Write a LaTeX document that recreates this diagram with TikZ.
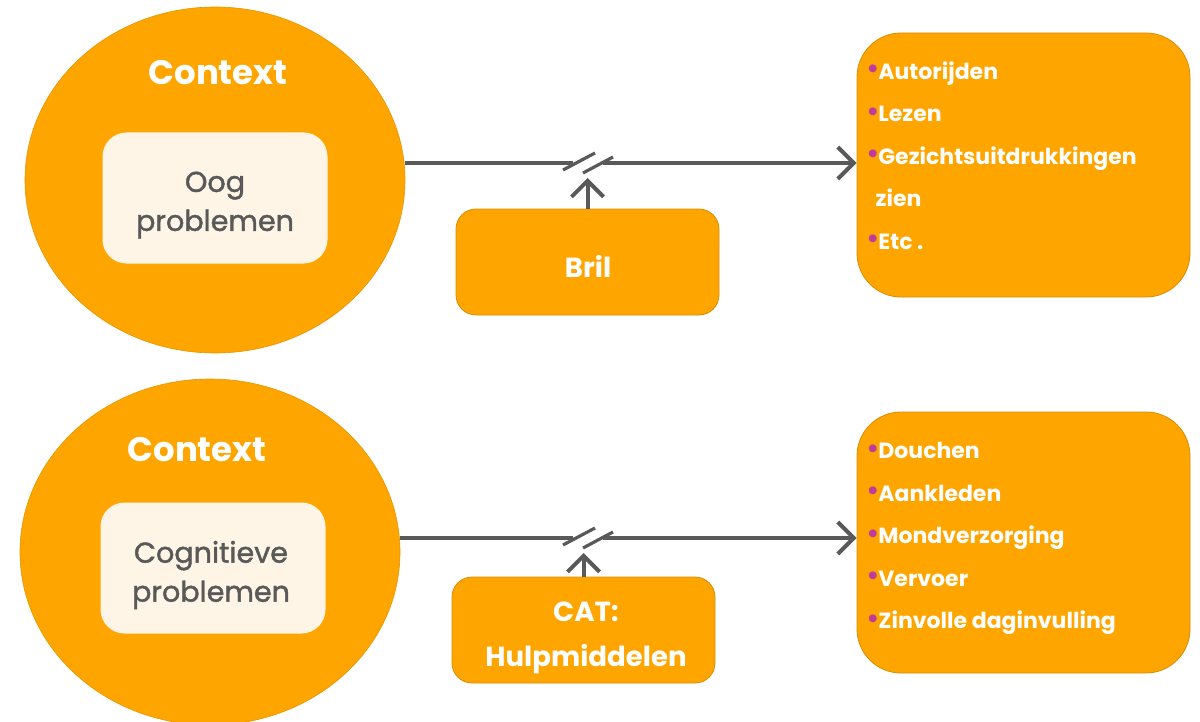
\documentclass[tikz,border=0pt]{standalone}
\usepackage{fontspec}
\setmainfont{Poppins}
\newfontfamily\medfont{Poppins}[FakeBold=1.5]
\usetikzlibrary{arrows.meta,shapes.geometric,calc}
\definecolor{org}{HTML}{FFA500}
\definecolor{cream}{HTML}{FEF5E7}
\definecolor{dgray}{HTML}{595959}
\definecolor{bul}{HTML}{C03C9C}
\newcommand{\bu}{\textcolor{bul}{\fontsize{13}{13}\selectfont\raisebox{0.6pt}{•}}\kern-0.5pt}
\begin{document}
\begin{tikzpicture}[x=0.5pt,y=-0.5pt,
  ctx/.style={ellipse,fill=org,draw=org!90!black,line width=0.3pt,minimum width=190pt,minimum height=173pt,inner sep=0pt},
  inbox/.style={rounded corners=12pt,fill=cream,minimum width=112.5pt,minimum height=65.5pt},
  intext/.style={text=dgray,align=center,font=\medfont\fontsize{14.3}{19.5}\selectfont},
  ctxlabel/.style={text=white,font=\bfseries\fontsize{17}{19}\selectfont},
  midbox/.style={rounded corners=10pt,fill=org,draw=org!85!black,line width=0.4pt,minimum width=131.5pt,minimum height=53pt},
  midtext/.style={text=white,align=center,font=\bfseries\fontsize{13.8}{22.5}\selectfont},
  listbox/.style={rounded corners=22pt,fill=org,draw=org!85!black,line width=0.4pt,minimum width=166.5pt,inner sep=0pt},
  listtext/.style={anchor=north west,inner sep=0pt,text=white,align=left,font=\bfseries\fontsize{11}{21.25}\selectfont},
  conn/.style={draw=dgray,line width=2pt,-{Straight Barb[length=8pt,width=16pt]}},
  brk/.style={draw=dgray,line width=1.6pt},
  gap/.style={draw=white,line width=2.6pt}]
\useasboundingbox (0,0) rectangle (1200,722);
% top row
\node[ctx] (c1) at (215,180) {};
\node[ctxlabel] (t1) at (218,73) {Context};
\node[inbox] (p1) at (215,198) {};
\node[intext] (q1) at (215,205) {Oog\\problemen};
\node[midbox] (bril) at (587.5,262) {};
\node[midtext] (bt) at (588,266) {Bril};
\node[listbox,minimum height=132pt] (r1) at (1023.5,165) {};
\node[listtext] (l1) at (866,61) {\bu Autorijden\\\bu Lezen\\\bu Gezichtsuitdrukkingen\\\ \ zien\\\bu Etc .};
\coordinate (m1) at (588,163);
\draw[conn] (c1.east |- m1) -- (r1.west |- m1);
\draw[gap] ($(m1)+(-15,0)$) -- ($(m1)+(15,0)$);
\draw[brk] ($(m1)+(-25,7)$) -- ($(m1)+(7,-10)$);
\draw[brk] ($(m1)+(-5,10)$) -- ($(m1)+(25,-6)$);
\draw[conn] (bril.north) -- ([yshift=-7.5pt]bril.north |- m1);
% bottom row
\node[ctx] (c2) at (210,552) {};
\node[ctxlabel] (t2) at (197,450) {Context};
\node[inbox] (p2) at (213,568) {};
\node[intext] (q2) at (211,575) {Cognitieve\\problemen};
\node[midbox] (cat) at (583.5,630) {};
\node[midtext] (ct) at (586,638) {CAT:\\Hulpmiddelen};
\node[listbox,minimum height=130.5pt] (r2) at (1023.5,542.5) {};
\node[listtext] (l2) at (866,442) {\bu Douchen\\\bu Aankleden\\\bu Mondverzorging\\\bu Vervoer\\\bu Zinvolle daginvulling};
\coordinate (m2) at (588,538);
\draw[conn] (c2.east |- m2) -- (r2.west |- m2);
\draw[gap] ($(m2)+(-15,0)$) -- ($(m2)+(15,0)$);
\draw[brk] ($(m2)+(-25,7)$) -- ($(m2)+(7,-10)$);
\draw[brk] ($(m2)+(-5,10)$) -- ($(m2)+(25,-6)$);
\draw[conn] (cat.north) -- ([yshift=-7.5pt]cat.north |- m2);
\end{tikzpicture}
\end{document}
